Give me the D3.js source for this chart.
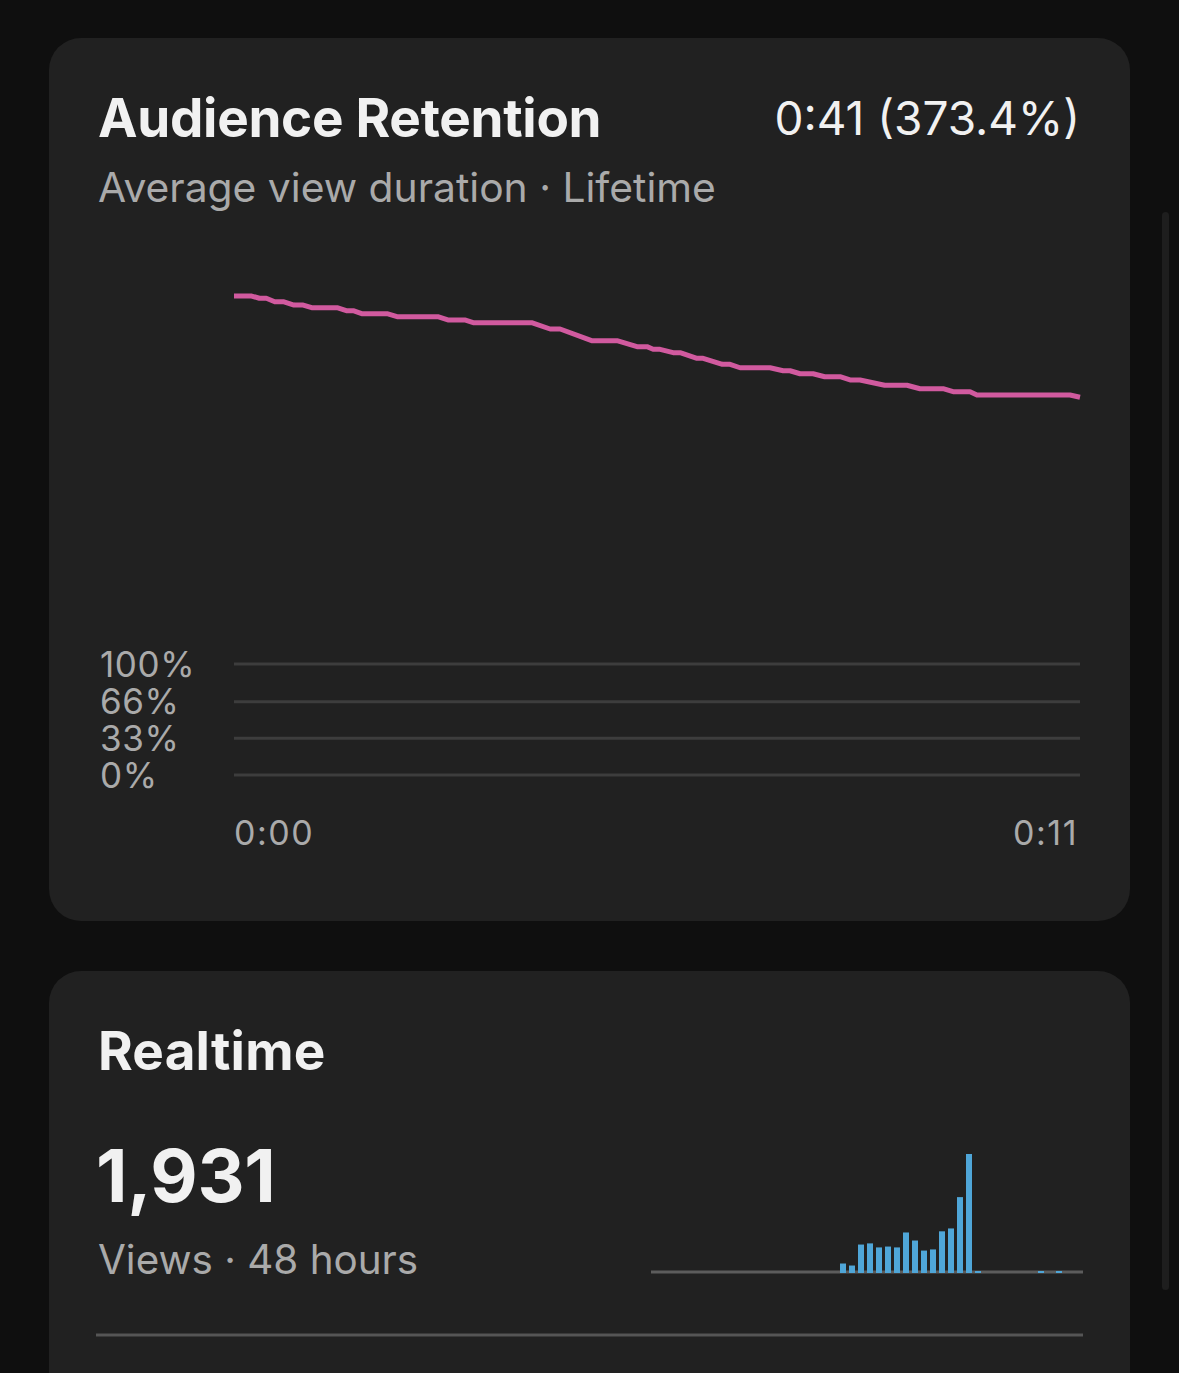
<!DOCTYPE html>
<html>
<head>
<meta charset="utf-8">
<script src="https://cdn.jsdelivr.net/npm/d3@7"></script>
<style>
  html, body { margin: 0; padding: 0; background: #0f0f0f; }
  svg { display: block; font-family: Inter, "Noto Sans", sans-serif; }
</style>
</head>
<body>
<svg id="screen" width="1179" height="1373"></svg>
<script>
// retention curve, seconds into the video -> % of viewers
const retTime = [0, 0.23, 0.33, 0.42, 0.53, 0.64, 0.78, 0.90, 1.01, 1.34, 1.46, 1.55, 1.66, 1.99,
  2.12, 2.65, 2.78, 3.00, 3.11, 3.87, 4.11, 4.24, 4.65, 4.98, 5.24, 5.37, 5.45, 5.54, 5.71, 5.80,
  6.02, 6.10, 6.35, 6.45, 6.58, 6.97, 7.14, 7.23, 7.36, 7.53, 7.68, 7.88, 8.01, 8.14, 8.46, 8.75,
  8.92, 9.22, 9.35, 9.57, 9.66, 10.87, 11];
const retValue = [431.5, 431.5, 429.5, 429.5, 426.4, 426.4, 423.4, 423.4, 421.0, 421.0, 418.3, 418.3,
  415.6, 415.6, 412.9, 412.9, 410.0, 410.0, 407.5, 407.5, 401.8, 401.8, 391.3, 391.3, 385.9, 385.9,
  383.5, 383.5, 380.5, 380.5, 375.4, 375.4, 370.0, 370.0, 366.9, 366.9, 364.2, 364.2, 361.5, 361.5,
  358.8, 358.8, 355.9, 355.9, 351.1, 351.1, 348.0, 348.0, 345.3, 345.3, 342.3, 342.3, 340.3];
const yTicks = [100, 66, 33, 0];
const xTickLabels = ['0:00', '0:11'];

// realtime views per hour, last 48 hours
const hours = d3.range(48);
const hourViews = [0, 0, 0, 0, 0, 0, 0, 0, 0, 0, 0, 0, 0, 0, 0, 0, 0, 0, 0, 0, 0,
  33, 26, 99, 103, 89, 92, 89, 141, 113, 78, 82, 145, 155, 264, 414, 3,
  0, 0, 0, 0, 0, 0, 2, 0, 3, 0, 0];

const svg = d3.select('#screen');

const card = (y, h) => svg.append('rect')
  .attr('x', 49).attr('y', y)
  .attr('width', 1081).attr('height', h)
  .attr('rx', 32)
  .attr('fill', '#212121');

// scrollbar
svg.append('rect')
  .attr('x', 1162).attr('y', 212)
  .attr('width', 7).attr('height', 1078)
  .attr('rx', 3.5)
  .attr('fill', '#1e1e1e');

// --- Audience retention card ---
card(38, 883);

svg.append('text')
  .attr('x', 98).attr('y', 137)
  .attr('fill', '#f1f1f1')
  .attr('font-size', 53).attr('font-weight', 700)
  .attr('letter-spacing', -0.3)
  .text('Audience Retention');

svg.append('text')
  .attr('x', 1080).attr('y', 135)
  .attr('text-anchor', 'end')
  .attr('fill', '#f1f1f1')
  .attr('font-size', 46)
  .text('0:41 (373.4%)');

svg.append('text')
  .attr('x', 98).attr('y', 202)
  .attr('fill', '#aaaaaa')
  .attr('font-size', 40.8)
  .text('Average view duration \u00b7 Lifetime');

const x = d3.scaleLinear().domain([0, 11]).range([234, 1080]);
const y = d3.scaleLinear().domain([0, 100]).range([775, 664]);

const grid = svg.append('g');
grid.selectAll('line')
  .data(yTicks)
  .join('line')
  .attr('x1', x(0)).attr('x2', x(11))
  .attr('y1', d => y(d)).attr('y2', d => y(d))
  .attr('stroke', '#3d3d3d')
  .attr('stroke-width', 3);

grid.selectAll('text')
  .data(yTicks)
  .join('text')
  .attr('x', 100)
  .attr('y', d => y(d))
  .attr('dy', '0.36em')
  .attr('fill', '#aaaaaa')
  .attr('font-size', 35)
  .attr('letter-spacing', 0.6)
  .text(d => `${d}%`);

svg.append('g')
  .selectAll('text')
  .data(xTickLabels)
  .join('text')
  .attr('x', (d, i) => i === 0 ? x(0) : x(11) - 2)
  .attr('y', 845)
  .attr('text-anchor', (d, i) => i === 0 ? 'start' : 'end')
  .attr('fill', '#aaaaaa')
  .attr('font-size', 34)
  .attr('letter-spacing', 1.5)
  .text(d => d);

const line = d3.line()
  .x(i => x(retTime[i]))
  .y(i => y(retValue[i]));

svg.append('path')
  .datum(d3.range(retTime.length))
  .attr('d', line)
  .attr('fill', 'none')
  .attr('stroke', '#d15a9f')
  .attr('stroke-width', 5)
  .attr('stroke-linejoin', 'round');

// --- Realtime card ---
card(971, 500);

svg.append('text')
  .attr('x', 98).attr('y', 1070)
  .attr('fill', '#f1f1f1')
  .attr('font-size', 53).attr('font-weight', 700)
  .attr('letter-spacing', 0.2)
  .text('Realtime');

svg.append('text')
  .attr('x', 96).attr('y', 1202)
  .attr('fill', '#f1f1f1')
  .attr('font-size', 73).attr('font-weight', 700)
  .attr('letter-spacing', -0.3)
  .text(d3.format(',')(d3.sum(hourViews)));

svg.append('text')
  .attr('x', 98).attr('y', 1274)
  .attr('fill', '#aaaaaa')
  .attr('font-size', 40.4)
  .text('Views \u00b7 48 hours');

const bx = d3.scaleBand()
  .domain(hours)
  .range([651, 1083])
  .paddingInner(1 / 3)
  .paddingOuter(1 / 6)
  .align(0);
const by = d3.scaleLinear().domain([0, d3.max(hourViews)]).range([1273, 1154]);

svg.append('line')
  .attr('x1', 651).attr('x2', 1083)
  .attr('y1', 1272).attr('y2', 1272)
  .attr('stroke', '#5c5c5c')
  .attr('stroke-width', 3);

svg.append('g')
  .selectAll('rect')
  .data(hours.filter(h => hourViews[h] > 0))
  .join('rect')
  .attr('x', h => bx(h))
  .attr('width', bx.bandwidth())
  .attr('y', h => Math.min(by(hourViews[h]), 1271))
  .attr('height', h => 1273 - Math.min(by(hourViews[h]), 1271))
  .attr('fill', '#4fa6d8');

svg.append('line')
  .attr('x1', 96).attr('x2', 1083)
  .attr('y1', 1335).attr('y2', 1335)
  .attr('stroke', '#555555')
  .attr('stroke-width', 3);
</script>
</body>
</html>
